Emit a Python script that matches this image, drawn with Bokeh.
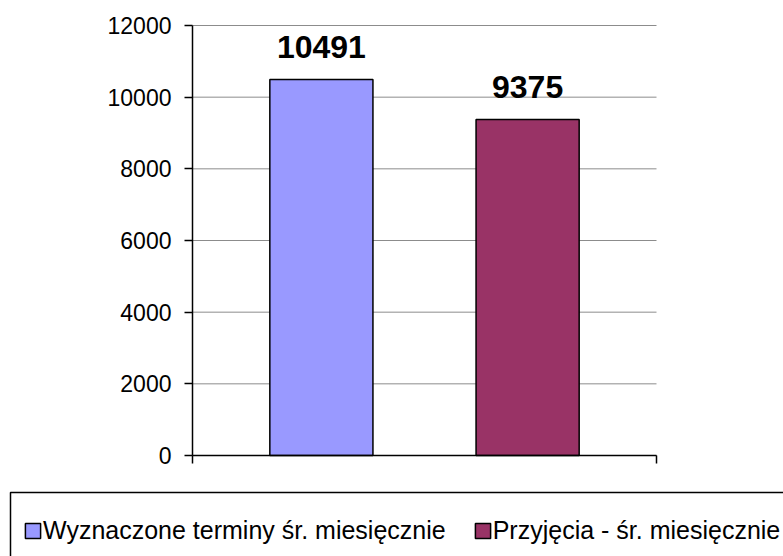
import numpy as np
from bokeh.plotting import figure
from bokeh.models import (Range1d, FixedTicker, ColumnDataSource, LabelSet, Legend, LegendItem,
                          BoxAnnotation)
from bokeh.core.properties import value
from bokeh.embed import file_html
from bokeh.resources import INLINE

# ---- data ----
series = ["Wyznaczone terminy śr. miesięcznie", "Przyjęcia - śr. miesięcznie"]
values = [10491, 9375]
colors = ["#9999FF", "#993366"]
y_ticks = [0, 2000, 4000, 6000, 8000, 10000, 12000]
y_max = 12000

FONT = "Liberation Sans"

# ---- layout (pixels) ----
W, H = 783, 556
PL, PR, PT, PB = 192, 656, 25, 455      # plot area edges

# slot layout: each series gets a bar of width 1 followed by a gap of 1,
# with 0.75 margin on both ends of the category
BAR_W, GAP, EDGE = 1.0, 1.0, 0.75
n = len(series)
xpos = EDGE + BAR_W / 2 + np.arange(n) * (BAR_W + GAP)
x_end = 2 * EDGE + n * BAR_W + (n - 1) * GAP

# frame covers the whole canvas so the legend below the plot area is not clipped
ppx = (PR - PL) / x_end
ppy = (PB - PT) / y_max
x_range = Range1d(-PL / ppx, x_end + (W - PR) / ppx)
y_range = Range1d(-(H - PB) / ppy, y_max + PT / ppy)

src = ColumnDataSource(dict(x=xpos, series=series, value=values, color=colors,
                            label=[str(v) for v in values]))
grid_src = ColumnDataSource(dict(y=y_ticks, x0=[0] * len(y_ticks), x1=[x_end] * len(y_ticks)))

p = figure(width=W, height=H, output_backend="svg", toolbar_location=None,
           x_range=x_range, y_range=y_range,
           min_border_left=0, min_border_right=0, min_border_top=0, min_border_bottom=0)
p.outline_line_color = None
p.background_fill_color = "white"
p.border_fill_color = "white"
p.xgrid.visible = False
p.ygrid.visible = False

# horizontal gridlines limited to the plot area
p.segment(x0="x0", x1="x1", y0="y", y1="y", source=grid_src,
          line_color="#8c8c8c", line_width=1)

# y axis
ya = p.yaxis[0]
ya.fixed_location = 0
ya.bounds = (0, y_max)
ya.ticker = FixedTicker(ticks=y_ticks)
ya.minor_tick_line_color = None
ya.major_tick_in = 0
ya.major_tick_out = 8
ya.major_tick_line_color = "black"
ya.major_tick_line_width = 1.5
ya.axis_line_color = "black"
ya.axis_line_width = 1.5
ya.major_label_standoff = 13
ya.major_label_text_font = FONT
ya.major_label_text_font_size = "23px"
ya.major_label_text_color = "black"

# x axis: line with ticks only at the category boundaries, no labels
xa = p.xaxis[0]
xa.fixed_location = 0
xa.bounds = (0, x_end)
xa.ticker = FixedTicker(ticks=[0, x_end])
xa.major_label_overrides = {0: "", x_end: ""}
xa.minor_tick_line_color = None
xa.major_tick_in = 0
xa.major_tick_out = 8
xa.major_tick_line_color = "black"
xa.major_tick_line_width = 1.5
xa.axis_line_color = "black"
xa.axis_line_width = 1.5
xa.major_label_standoff = 0

bars = p.vbar(x="x", top="value", width=BAR_W, bottom=0, fill_color="color",
              line_color="black", line_width=1.5, source=src)

labels = LabelSet(x="x", y="value", text="label", source=src,
                  text_align="center", text_baseline="alphabetic", y_offset=22,
                  text_font=value(FONT), text_font_size=value("32px"),
                  text_font_style="bold", text_color="black")
p.add_layout(labels)

# ---- legend ----
leg = Legend(items=[LegendItem(label=s, renderers=[bars], index=i) for i, s in enumerate(series)],
             orientation="horizontal", location=(23, 11),
             padding=0, margin=0, border_line_color=None, background_fill_alpha=0,
             glyph_width=19, glyph_height=19, label_height=19, label_standoff=1,
             spacing=27, label_text_font=FONT, label_text_font_size="25px",
             label_text_color="black")
p.add_layout(leg)

# legend frame: box that runs off the right and bottom edges
box = BoxAnnotation(left=10, left_units="screen", top=H - 492, top_units="screen",
                    right=W + 20, right_units="screen", bottom=-20, bottom_units="screen",
                    fill_color=None, fill_alpha=0, line_color="black", line_width=1.5,
                    line_alpha=1, line_dash="solid")
p.add_layout(box)

open("out.html", "w").write(file_html(p, INLINE))
